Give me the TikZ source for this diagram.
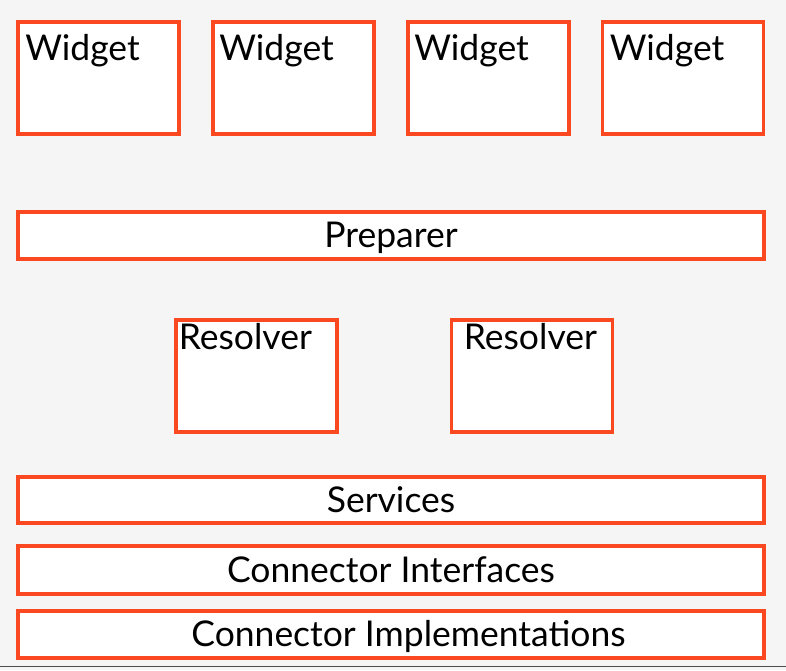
\documentclass[tikz,border=0pt]{standalone}
\usepackage{fontspec}
\setmainfont{Lato}
\usetikzlibrary{positioning}
\definecolor{boxred}{RGB}{250,72,32}
\definecolor{bggray}{RGB}{245,245,245}
\tikzset{
  layer/.style={rectangle, draw=boxred, line width=3.5pt, fill=white,
    minimum width=746pt, inner sep=0pt, text height=27pt, text depth=3pt,
    font=\fontsize{35.5}{38}\selectfont},
  comp/.style={rectangle, draw=boxred, line width=3.5pt, fill=white,
    minimum width=161pt, minimum height=112pt, inner sep=0pt},
  tag/.style={anchor=base west, inner sep=0pt, outer sep=0pt,
    font=\fontsize{35.5}{38}\selectfont}
}

\begin{document}
\begin{tikzpicture}[x=1pt, y=-1pt]
    % Canvas
    \fill [bggray] (0,0) rectangle (786,670);
    \useasboundingbox (0,0) rectangle (786,670);
    % Widgets
    \foreach \cx/\dx [count=\i] in {98.5/9, 293.5/8, 488.5/8, 683/9}
        \node [comp, label={[tag, xshift=\dx pt, yshift=-40pt]north west:Widget}]
            (widget\i) at (\cx,78) {};
    % Preparer
    \node [layer, minimum height=47pt] (preparer) at (391,235.5) {Preparer};
    % Resolvers
    \node [comp, label={[tag, xshift=4.5pt, yshift=-31.5pt]north west:Resolver}]
        (resolver1) at (256.5,376) {};
    \node [comp, label={[tag, xshift=14pt, yshift=-31.5pt]north west:Resolver}]
        (resolver2) at (532,376) {};
    % Layers
    \node [layer, minimum height=46pt] (services) at (391,500) {Services};
    \node [layer, minimum height=48pt] (interfaces) at (391,570) {Connector Interfaces};
    \node [layer, minimum height=47pt,
        label={[layer, draw=none, fill=none, minimum width=0pt, xshift=17.5pt]center:Connector Implementations}]
        (implementations) at (391,634.5) {};
    % Bottom edge
    \draw [black!70, line width=1pt] (0,666.5) -- (786,666.5);
\end{tikzpicture}
\end{document}
